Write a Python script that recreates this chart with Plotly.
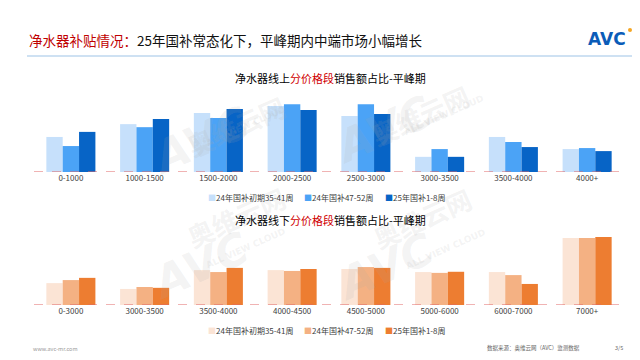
import plotly.graph_objects as go

# ---------------- data ----------------
online_categories = ["0-1000", "1000-1500", "1500-2000", "2000-2500",
                     "2500-3000", "3000-3500", "3500-4000", "4000+"]
offline_categories = ["0-3000", "3000-3500", "3500-4000", "4000-4500",
                      "4500-5000", "5000-6000", "6000-7000", "7000+"]
series_names = ["24年国补初期35-41周", "24年国补47-52周", "25年国补1-8周"]

online_s1 = [10.4, 14.2, 17.5, 19.6, 16.6, 4.5, 10.4, 6.8]
online_s2 = [7.7, 13.3, 16.0, 20.1, 20.1, 6.8, 8.9, 7.1]
online_s3 = [11.9, 15.7, 18.7, 18.4, 17.2, 4.5, 7.4, 6.2]

offline_s1 = [7.9, 5.8, 12.6, 12.6, 13.0, 11.9, 11.9, 24.2]
offline_s2 = [9.0, 6.5, 11.9, 12.3, 13.7, 11.6, 10.8, 24.2]
offline_s3 = [9.8, 6.2, 13.4, 13.0, 13.4, 12.0, 7.6, 24.6]

blue_colors = ["#c6e0fb", "#4ba3f6", "#0764c6"]
orange_colors = ["#fbe4d5", "#f4b183", "#ed7d31"]

W, H = 640, 360
FONT = "Noto Sans CJK SC"


def px(x):
    return x / W


def py(y):
    return 1 - y / H


fig = go.Figure()

online = [online_s1, online_s2, online_s3]
offline = [offline_s1, offline_s2, offline_s3]

for i in range(3):
    fig.add_trace(go.Bar(x=online_categories, y=online[i], name=series_names[i],
                         marker=dict(color=blue_colors[i], line=dict(width=0)),
                         xaxis="x", yaxis="y", showlegend=False))
for i in range(3):
    fig.add_trace(go.Bar(x=offline_categories, y=offline[i], name=series_names[i],
                         marker=dict(color=orange_colors[i], line=dict(width=0)),
                         xaxis="x2", yaxis="y2", showlegend=False))

axis_common = dict(showgrid=False, zeroline=False, showline=False, ticks="",
                   tickfont=dict(family=FONT, size=8, color="#404040"), fixedrange=True)

fig.update_layout(
    width=W, height=H,
    margin=dict(l=0, r=0, t=0, b=0),
    paper_bgcolor="white", plot_bgcolor="white",
    barmode="group", bargap=0.335, bargroupgap=0,
    showlegend=False,
    font=dict(family=FONT, color="#222"),
    xaxis=dict(domain=[px(26), px(616)], anchor="y", **axis_common),
    yaxis=dict(domain=[py(164), py(88)], range=[0, 22.55], visible=False, fixedrange=True),
    xaxis2=dict(domain=[px(26), px(616)], anchor="y2", **axis_common),
    yaxis2=dict(domain=[py(297), py(225)], range=[0, 26.0], visible=False, fixedrange=True),
)

shapes = []
# dashed baselines
for xr, yr in [("x domain", "y"), ("x2 domain", "y2")]:
    shapes.append(dict(type="line", xref=xr, yref=yr, x0=0, x1=1, y0=0, y1=0,
                       line=dict(color="#e06666", width=1, dash="dash"), layer="above"))
# title underline
shapes.append(dict(type="line", xref="paper", yref="paper", x0=px(19), x1=px(625),
                   y0=py(48), y1=py(48), line=dict(color="#9dc3e6", width=1)))
# logo dot
shapes.append(dict(type="circle", xref="paper", yref="paper",
                   x0=px(620), x1=px(624), y0=py(24), y1=py(20),
                   fillcolor="#f5a623", line=dict(width=0)))
fig.update_layout(shapes=shapes)

ann = []
# watermarks
wm_color = "rgba(170,170,170,0.15)"
for cx, cy in [(228, 77), (470, 66), (228, 249), (472, 250)]:
    ann.append(dict(text="<b>奥维云网</b>", x=px(cx), y=py(cy), xref="paper", yref="paper",
                    showarrow=False, textangle=-24,
                    font=dict(family=FONT, size=26, color=wm_color)))
    ann.append(dict(text="<b>ALL VIEW CLOUD</b>", x=px(cx + 10), y=py(cy + 16), xref="paper",
                    yref="paper", showarrow=False, textangle=-24,
                    font=dict(family="DejaVu Sans", size=9, color=wm_color)))
    ann.append(dict(text="<b><i>AVC</i></b>", x=px(cx - 95), y=py(cy + 55), xref="paper",
                    yref="paper", showarrow=False, textangle=-24,
                    font=dict(family="DejaVu Sans", size=44, color=wm_color)))

# legends (colour key built from the series names and colours)
legend_x = [198, 294, 375]
for colors, yc in [(blue_colors, 189), (orange_colors, 322)]:
    for i in range(3):
        ann.append(dict(text=f"<span style='color:{colors[i]}'>■</span>{series_names[i]}",
                        x=px(legend_x[i]), y=py(yc), xref="paper", yref="paper",
                        xanchor="left", yanchor="middle", showarrow=False,
                        font=dict(family=FONT, size=8, color="#404040")))

# title
ann.append(dict(text="<span style='color:#c00000'>净水器补贴情况：</span>25年国补常态化下，平峰期内中端市场小幅增长",
                x=px(19), y=py(31.5), xref="paper", yref="paper", xanchor="left",
                yanchor="middle", showarrow=False,
                font=dict(family=FONT, size=13.5, color="#111")))
# logo
ann.append(dict(text="<b>AVC</b>", x=px(620), y=py(31), xref="paper", yref="paper",
                xanchor="right", yanchor="middle", showarrow=False,
                font=dict(family="DejaVu Sans", size=17, color="#0b5cb8")))
# subtitles
ann.append(dict(text="净水器线上<span style='color:#d00000'>分价格段</span>销售额占比-平峰期",
                x=px(322), y=py(70), xref="paper", yref="paper", showarrow=False,
                yanchor="middle", font=dict(family=FONT, size=11, color="#000")))
ann.append(dict(text="净水器线下<span style='color:#d00000'>分价格段</span>销售额占比-平峰期",
                x=px(322), y=py(212), xref="paper", yref="paper", showarrow=False,
                yanchor="middle", font=dict(family=FONT, size=11, color="#000")))
# footer
ann.append(dict(text="www.avc-mr.com", x=px(23), y=py(341), xref="paper", yref="paper",
                xanchor="left", yanchor="middle", showarrow=False,
                font=dict(family=FONT, size=5.5, color="#999")))
ann.append(dict(text="数据来源：奥维云网（AVC）监测数据", x=px(477), y=py(340), xref="paper",
                yref="paper", xanchor="left", yanchor="middle", showarrow=False,
                font=dict(family=FONT, size=5.5, color="#666")))
ann.append(dict(text="3/5", x=px(617), y=py(340), xref="paper", yref="paper",
                xanchor="right", yanchor="middle", showarrow=False,
                font=dict(family=FONT, size=5.5, color="#666")))
fig.update_layout(annotations=ann)

fig.write_html("out.html")
